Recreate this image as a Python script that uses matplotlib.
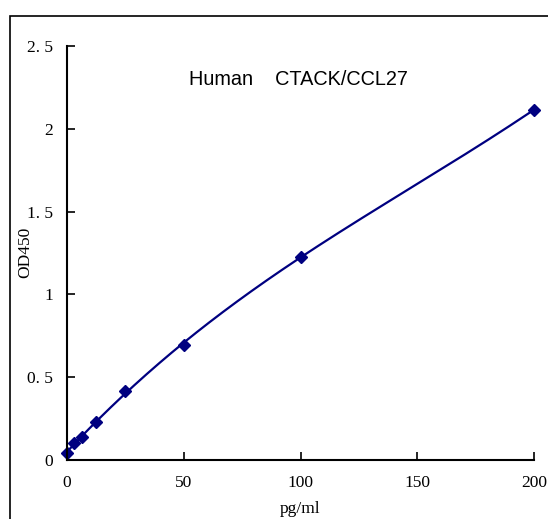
import numpy as np
import matplotlib.pyplot as plt
from matplotlib.patches import Rectangle

# 標準曲線データ
conc = [0, 3.125, 6.25, 12.5, 25, 50, 100, 200]
od450 = [0.042, 0.103, 0.139, 0.232, 0.415, 0.697, 1.226, 2.115]
xticks = [0, 50, 100, 150, 200]
yticks = [0, 0.5, 1, 1.5, 2, 2.5]
ylabels = ['0', '0. 5', '1', '1. 5', '2', '2. 5']
TITLE = 'Human    CTACK/CCL27'

SERIF = 'Liberation Serif'
NAVY = '#000080'

fig = plt.figure(figsize=(5.48, 5.19), dpi=100)
fig.patches.append(Rectangle((10 / 548, -0.1), 1.2, 1 - 16 / 519 + 0.1,
                             transform=fig.transFigure, fill=False,
                             edgecolor='black', linewidth=1.2))
ax = fig.add_axes([67 / 548, 1 - 460 / 519, (534 - 67) / 548, (460 - 46) / 519])

# 平滑な曲線 (3次多項式フィット)
coef = np.polyfit(conc, od450, 3)
xs = np.linspace(0, 200, 300)
ax.plot(xs, np.polyval(coef, xs), color=NAVY, linewidth=1.6, clip_on=False)
ax.plot(conc, od450, linestyle='none', marker='D', markersize=6.5, color=NAVY, clip_on=False)

ax.set_xlim(0, 200)
ax.set_ylim(0, 2.5)
ax.spines['top'].set_visible(False)
ax.spines['right'].set_visible(False)
for s in ('left', 'bottom'):
    ax.spines[s].set_linewidth(1.5)
ax.set_xticks(xticks)
ax.set_xticklabels([str(v) for v in xticks], fontfamily=SERIF, fontsize=12.5)
ax.set_yticks(yticks)
ax.set_yticklabels(ylabels, fontfamily=SERIF, fontsize=12.5)
ax.tick_params(axis='x', direction='in', length=6, width=1.2, pad=11)
ax.tick_params(axis='y', direction='in', length=6, width=1.2, pad=10)
ax.set_xlabel('pg/ml', fontfamily=SERIF, fontsize=12.5)
ax.set_ylabel('OD450', fontfamily=SERIF, fontsize=12.5)
ax.xaxis.set_label_coords(0.5, -0.099)
ax.yaxis.set_label_coords(-0.072, 0.502)
ax.text(99, 2.295, TITLE, fontfamily='Liberation Sans', fontsize=14.3, ha='center', va='center')

fig.savefig('out.png', dpi=100)
